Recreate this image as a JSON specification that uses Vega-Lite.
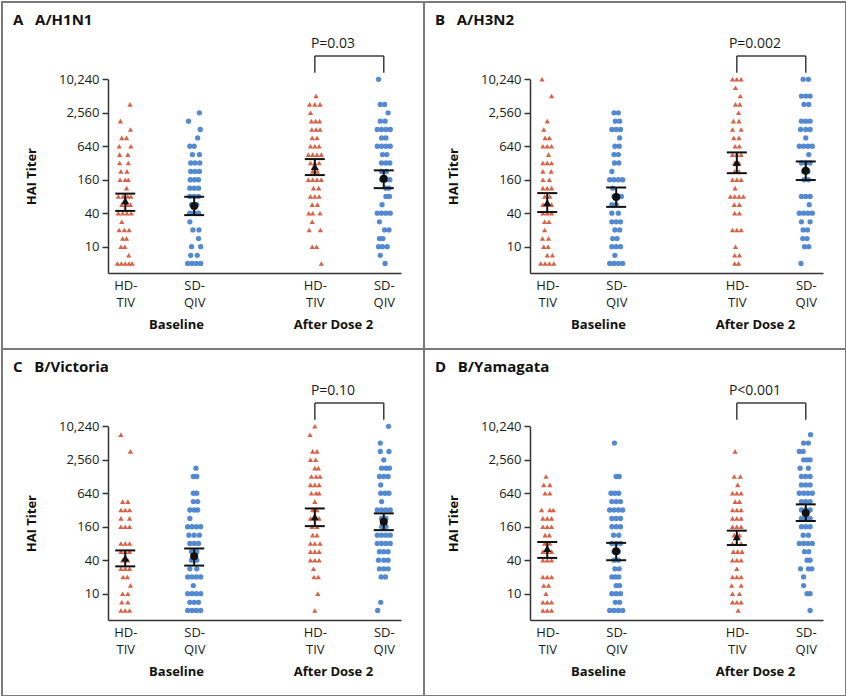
{
"$schema": "https://vega.github.io/schema/vega-lite/v6.json",
"padding": {"left": 1, "top": 1, "right": 1, "bottom": 1},
"background": "white",
"config": {
  "font": "Open Sans",
  "view": {"stroke": "#7a7a7a", "strokeWidth": 2},
  "axis": {"grid": false, "labelFont": "Open Sans", "titleFont": "Open Sans", "labelColor": "#1a1a1a", "titleColor": "#111", "domainColor": "#333", "tickColor": "#333", "domainWidth": 1.5, "tickWidth": 1.5},
  "title": {"anchor": "start", "frame": "group", "font": "Open Sans", "fontSize": 15, "fontWeight": "bold", "color": "#111", "offset": -26, "baseline": "alphabetic", "dx": 11}
},
"datasets": {
"brk": [
 {"x": "After Dose 2|HD-TIV", "x2": "After Dose 2|HD-TIV", "y": 13460, "y2": 26870},
 {"x": "After Dose 2|HD-TIV", "x2": "After Dose 2|SD-QIV", "y": 26870, "y2": 26870},
 {"x": "After Dose 2|SD-QIV", "x2": "After Dose 2|SD-QIV", "y": 26870, "y2": 13460}
],
"Am": [
 {"v": "Baseline", "g": "HD-TIV", "m": 67, "lo": 44, "hi": 90},
 {"v": "Baseline", "g": "SD-QIV", "m": 54, "lo": 37, "hi": 79},
 {"v": "After Dose 2", "g": "HD-TIV", "m": 278, "lo": 194, "hi": 376},
 {"v": "After Dose 2", "g": "SD-QIV", "m": 166, "lo": 113, "hi": 236}
],
"Bm": [
 {"v": "Baseline", "g": "HD-TIV", "m": 62, "lo": 42, "hi": 92},
 {"v": "Baseline", "g": "SD-QIV", "m": 78, "lo": 52, "hi": 116},
 {"v": "After Dose 2", "g": "HD-TIV", "m": 328, "lo": 210, "hi": 496},
 {"v": "After Dose 2", "g": "SD-QIV", "m": 233, "lo": 158, "hi": 341}
],
"Cm": [
 {"v": "Baseline", "g": "HD-TIV", "m": 44, "lo": 31, "hi": 60},
 {"v": "Baseline", "g": "SD-QIV", "m": 47, "lo": 32, "hi": 65},
 {"v": "After Dose 2", "g": "HD-TIV", "m": 242, "lo": 164, "hi": 341},
 {"v": "After Dose 2", "g": "SD-QIV", "m": 197, "lo": 139, "hi": 278}
],
"Dm": [
 {"v": "Baseline", "g": "HD-TIV", "m": 65, "lo": 44, "hi": 85},
 {"v": "Baseline", "g": "SD-QIV", "m": 58, "lo": 40, "hi": 82},
 {"v": "After Dose 2", "g": "HD-TIV", "m": 106, "lo": 75, "hi": 136},
 {"v": "After Dose 2", "g": "SD-QIV", "m": 282, "lo": 203, "hi": 404}
],
"A": [
 {"v": "Baseline", "g": "HD-TIV", "t": 3620, "j": [1.1]},
 {"v": "Baseline", "g": "HD-TIV", "t": 1810, "j": [-1.1]},
 {"v": "Baseline", "g": "HD-TIV", "t": 1280, "j": [1.2]},
 {"v": "Baseline", "g": "HD-TIV", "t": 905, "j": [-0.8, 0.3]},
 {"v": "Baseline", "g": "HD-TIV", "t": 640, "j": [-1.4, 1.3]},
 {"v": "Baseline", "g": "HD-TIV", "t": 453, "j": [-1.3, 0.6]},
 {"v": "Baseline", "g": "HD-TIV", "t": 320, "j": [-1.3, 0.7]},
 {"v": "Baseline", "g": "HD-TIV", "t": 226, "j": [-1, 0.4]},
 {"v": "Baseline", "g": "HD-TIV", "t": 160, "j": [-1.2, 0, 0.7]},
 {"v": "Baseline", "g": "HD-TIV", "t": 113, "j": [0.3]},
 {"v": "Baseline", "g": "HD-TIV", "t": 80, "j": [-1.6, -0.5, 0.6, 1.3]},
 {"v": "Baseline", "g": "HD-TIV", "t": 57, "j": [-0.8, 0.4, 1.2]},
 {"v": "Baseline", "g": "HD-TIV", "t": 40, "j": [-1.6, -0.6, 0.4, 1.4]},
 {"v": "Baseline", "g": "HD-TIV", "t": 28, "j": [-0.8]},
 {"v": "Baseline", "g": "HD-TIV", "t": 20, "j": [-1.4, -0.2, 0.9]},
 {"v": "Baseline", "g": "HD-TIV", "t": 14, "j": [-0.6, 0.3]},
 {"v": "Baseline", "g": "HD-TIV", "t": 10, "j": [-1, -0.1]},
 {"v": "Baseline", "g": "HD-TIV", "t": 7, "j": [0.8]},
 {"v": "Baseline", "g": "HD-TIV", "t": 5, "j": [-1.8, -0.9, 0, 0.9, 1.6]},
 {"v": "Baseline", "g": "SD-QIV", "t": 2560, "j": [1.2]},
 {"v": "Baseline", "g": "SD-QIV", "t": 1810, "j": [-1.3]},
 {"v": "Baseline", "g": "SD-QIV", "t": 1280, "j": [1.4]},
 {"v": "Baseline", "g": "SD-QIV", "t": 905, "j": [0.8]},
 {"v": "Baseline", "g": "SD-QIV", "t": 640, "j": [-1, 0]},
 {"v": "Baseline", "g": "SD-QIV", "t": 453, "j": [-0.4, 1.2]},
 {"v": "Baseline", "g": "SD-QIV", "t": 320, "j": [-0.8, 0.2, 1.3]},
 {"v": "Baseline", "g": "SD-QIV", "t": 226, "j": [-0.8, 0.2, 1.2]},
 {"v": "Baseline", "g": "SD-QIV", "t": 160, "j": [-0.9, 0.1, 1]},
 {"v": "Baseline", "g": "SD-QIV", "t": 113, "j": [-1, 0, 1]},
 {"v": "Baseline", "g": "SD-QIV", "t": 80, "j": [-1, 0, 1]},
 {"v": "Baseline", "g": "SD-QIV", "t": 57, "j": [-0.6, 0.6]},
 {"v": "Baseline", "g": "SD-QIV", "t": 40, "j": [-1, 0, 1]},
 {"v": "Baseline", "g": "SD-QIV", "t": 28, "j": [-1]},
 {"v": "Baseline", "g": "SD-QIV", "t": 20, "j": [-0.3, 1.1]},
 {"v": "Baseline", "g": "SD-QIV", "t": 14, "j": [1]},
 {"v": "Baseline", "g": "SD-QIV", "t": 10, "j": [-0.6, 1.5]},
 {"v": "Baseline", "g": "SD-QIV", "t": 7, "j": [-0.8, 0.7]},
 {"v": "Baseline", "g": "SD-QIV", "t": 5, "j": [-1.5, -0.5, 0.5, 1.5]},
 {"v": "After Dose 2", "g": "HD-TIV", "t": 5120, "j": [0.3]},
 {"v": "After Dose 2", "g": "HD-TIV", "t": 3620, "j": [-1.2, 0, 1.2]},
 {"v": "After Dose 2", "g": "HD-TIV", "t": 2560, "j": [-1]},
 {"v": "After Dose 2", "g": "HD-TIV", "t": 1810, "j": [-0.8, 0.2, 1.1]},
 {"v": "After Dose 2", "g": "HD-TIV", "t": 1280, "j": [-0.7, 0.3, 1.2]},
 {"v": "After Dose 2", "g": "HD-TIV", "t": 905, "j": [-0.6, 0.5]},
 {"v": "After Dose 2", "g": "HD-TIV", "t": 640, "j": [-1, 0, 1]},
 {"v": "After Dose 2", "g": "HD-TIV", "t": 453, "j": [-1.5, -0.5, 0.5, 1.5]},
 {"v": "After Dose 2", "g": "HD-TIV", "t": 320, "j": [-1, 0, 1]},
 {"v": "After Dose 2", "g": "HD-TIV", "t": 226, "j": [-0.5, 0.6]},
 {"v": "After Dose 2", "g": "HD-TIV", "t": 160, "j": [-1.5, -0.5, 0.5, 1.5]},
 {"v": "After Dose 2", "g": "HD-TIV", "t": 113, "j": [-0.3, 0.9]},
 {"v": "After Dose 2", "g": "HD-TIV", "t": 80, "j": [-1, 0, 1]},
 {"v": "After Dose 2", "g": "HD-TIV", "t": 57, "j": [-0.6, 0.6]},
 {"v": "After Dose 2", "g": "HD-TIV", "t": 40, "j": [-1.4, -0.5, 1.2]},
 {"v": "After Dose 2", "g": "HD-TIV", "t": 28, "j": [-0.6]},
 {"v": "After Dose 2", "g": "HD-TIV", "t": 20, "j": [-1.3, 1.3]},
 {"v": "After Dose 2", "g": "HD-TIV", "t": 10, "j": [-0.6, 0.4]},
 {"v": "After Dose 2", "g": "HD-TIV", "t": 5, "j": [1.5]},
 {"v": "After Dose 2", "g": "SD-QIV", "t": 10240, "j": [-1.2]},
 {"v": "After Dose 2", "g": "SD-QIV", "t": 3620, "j": [-0.8, 0.2]},
 {"v": "After Dose 2", "g": "SD-QIV", "t": 2560, "j": [1]},
 {"v": "After Dose 2", "g": "SD-QIV", "t": 1810, "j": [-0.8, 0.3]},
 {"v": "After Dose 2", "g": "SD-QIV", "t": 1280, "j": [-1.5, -0.5, 0.5, 1.5]},
 {"v": "After Dose 2", "g": "SD-QIV", "t": 905, "j": [-0.5, 0.5]},
 {"v": "After Dose 2", "g": "SD-QIV", "t": 640, "j": [-1.5, -0.5, 0.5, 1.5]},
 {"v": "After Dose 2", "g": "SD-QIV", "t": 453, "j": [-0.3, 0.7]},
 {"v": "After Dose 2", "g": "SD-QIV", "t": 320, "j": [-0.5, 0.5, 1.4]},
 {"v": "After Dose 2", "g": "SD-QIV", "t": 226, "j": [-0.5, 0.6]},
 {"v": "After Dose 2", "g": "SD-QIV", "t": 160, "j": [-0.5, 0.5, 1.4]},
 {"v": "After Dose 2", "g": "SD-QIV", "t": 113, "j": [0.5, 1.2]},
 {"v": "After Dose 2", "g": "SD-QIV", "t": 80, "j": [0.5, 1.3]},
 {"v": "After Dose 2", "g": "SD-QIV", "t": 57, "j": [-0.4]},
 {"v": "After Dose 2", "g": "SD-QIV", "t": 40, "j": [-1.5, -0.5, 0.5, 1.5]},
 {"v": "After Dose 2", "g": "SD-QIV", "t": 28, "j": [-1]},
 {"v": "After Dose 2", "g": "SD-QIV", "t": 20, "j": [0.2, 1.2]},
 {"v": "After Dose 2", "g": "SD-QIV", "t": 14, "j": [-1, -0.2]},
 {"v": "After Dose 2", "g": "SD-QIV", "t": 10, "j": [-1.2, -0.3, 0.8]},
 {"v": "After Dose 2", "g": "SD-QIV", "t": 7, "j": [-0.8]},
 {"v": "After Dose 2", "g": "SD-QIV", "t": 5, "j": [0.3]}
],
"B": [
 {"v": "Baseline", "g": "HD-TIV", "t": 10240, "j": [-1.2]},
 {"v": "Baseline", "g": "HD-TIV", "t": 5120, "j": [1]},
 {"v": "Baseline", "g": "HD-TIV", "t": 1810, "j": [0]},
 {"v": "Baseline", "g": "HD-TIV", "t": 1280, "j": [-0.8]},
 {"v": "Baseline", "g": "HD-TIV", "t": 905, "j": [-0.5, 0.5]},
 {"v": "Baseline", "g": "HD-TIV", "t": 640, "j": [-1, 0, 1]},
 {"v": "Baseline", "g": "HD-TIV", "t": 453, "j": [0.3]},
 {"v": "Baseline", "g": "HD-TIV", "t": 320, "j": [-1, 0, 1]},
 {"v": "Baseline", "g": "HD-TIV", "t": 226, "j": [-1, 0.9]},
 {"v": "Baseline", "g": "HD-TIV", "t": 160, "j": [-1, 0.5]},
 {"v": "Baseline", "g": "HD-TIV", "t": 113, "j": [-1, 0, 1]},
 {"v": "Baseline", "g": "HD-TIV", "t": 80, "j": [-0.6, 0.6]},
 {"v": "Baseline", "g": "HD-TIV", "t": 57, "j": [-1, 0, 1]},
 {"v": "Baseline", "g": "HD-TIV", "t": 40, "j": [-1, 0, 1]},
 {"v": "Baseline", "g": "HD-TIV", "t": 28, "j": [-0.6, 0.4]},
 {"v": "Baseline", "g": "HD-TIV", "t": 20, "j": [-0.6]},
 {"v": "Baseline", "g": "HD-TIV", "t": 14, "j": [-1.1, 0.3]},
 {"v": "Baseline", "g": "HD-TIV", "t": 10, "j": [-0.8, 0.2]},
 {"v": "Baseline", "g": "HD-TIV", "t": 7, "j": [0, 1.2]},
 {"v": "Baseline", "g": "HD-TIV", "t": 5, "j": [-1.5, -0.5, 0.5, 1.5]},
 {"v": "Baseline", "g": "SD-QIV", "t": 2560, "j": [-0.5, 0.5]},
 {"v": "Baseline", "g": "SD-QIV", "t": 1810, "j": [-0.2, 0.8]},
 {"v": "Baseline", "g": "SD-QIV", "t": 1280, "j": [-1, 0, 1]},
 {"v": "Baseline", "g": "SD-QIV", "t": 905, "j": [0.8]},
 {"v": "Baseline", "g": "SD-QIV", "t": 640, "j": [-0.3, 0.7]},
 {"v": "Baseline", "g": "SD-QIV", "t": 453, "j": [-0.5, 0.5]},
 {"v": "Baseline", "g": "SD-QIV", "t": 320, "j": [-0.4, 0.6]},
 {"v": "Baseline", "g": "SD-QIV", "t": 226, "j": [-1]},
 {"v": "Baseline", "g": "SD-QIV", "t": 160, "j": [-1.5, -0.5, 0.5, 1.5]},
 {"v": "Baseline", "g": "SD-QIV", "t": 113, "j": [-0.8]},
 {"v": "Baseline", "g": "SD-QIV", "t": 80, "j": [-0.5, 0.5, 1.2]},
 {"v": "Baseline", "g": "SD-QIV", "t": 57, "j": [-1, 0]},
 {"v": "Baseline", "g": "SD-QIV", "t": 40, "j": [-1, 0.5]},
 {"v": "Baseline", "g": "SD-QIV", "t": 28, "j": [-1, 0, 1]},
 {"v": "Baseline", "g": "SD-QIV", "t": 20, "j": [-0.3, 0.8]},
 {"v": "Baseline", "g": "SD-QIV", "t": 14, "j": [-0.8, 0.2]},
 {"v": "Baseline", "g": "SD-QIV", "t": 10, "j": [-1, 0, 1]},
 {"v": "Baseline", "g": "SD-QIV", "t": 7, "j": [-0.3]},
 {"v": "Baseline", "g": "SD-QIV", "t": 5, "j": [-1.5, -0.5, 0.5, 1.5]},
 {"v": "After Dose 2", "g": "HD-TIV", "t": 10240, "j": [-1, 0, 1]},
 {"v": "After Dose 2", "g": "HD-TIV", "t": 7241, "j": [-0.3]},
 {"v": "After Dose 2", "g": "HD-TIV", "t": 5120, "j": [0.8]},
 {"v": "After Dose 2", "g": "HD-TIV", "t": 3620, "j": [-0.3, 0.7]},
 {"v": "After Dose 2", "g": "HD-TIV", "t": 2560, "j": [0.4]},
 {"v": "After Dose 2", "g": "HD-TIV", "t": 1810, "j": [-0.8, 0.5]},
 {"v": "After Dose 2", "g": "HD-TIV", "t": 1280, "j": [-1, 1]},
 {"v": "After Dose 2", "g": "HD-TIV", "t": 905, "j": [-0.7, 0.5]},
 {"v": "After Dose 2", "g": "HD-TIV", "t": 640, "j": [-0.4, 0.6]},
 {"v": "After Dose 2", "g": "HD-TIV", "t": 453, "j": [-1, 0, 1]},
 {"v": "After Dose 2", "g": "HD-TIV", "t": 320, "j": [-0.5, 0.5]},
 {"v": "After Dose 2", "g": "HD-TIV", "t": 226, "j": [-0.5, 0.5]},
 {"v": "After Dose 2", "g": "HD-TIV", "t": 160, "j": [-1, 0, 1]},
 {"v": "After Dose 2", "g": "HD-TIV", "t": 113, "j": [-0.4]},
 {"v": "After Dose 2", "g": "HD-TIV", "t": 80, "j": [-1.5, -0.5, 0.5, 1.5]},
 {"v": "After Dose 2", "g": "HD-TIV", "t": 57, "j": [-0.6, 0.6]},
 {"v": "After Dose 2", "g": "HD-TIV", "t": 40, "j": [-0.5, 0.6]},
 {"v": "After Dose 2", "g": "HD-TIV", "t": 20, "j": [-1, 0, 1]},
 {"v": "After Dose 2", "g": "HD-TIV", "t": 10, "j": [-0.3]},
 {"v": "After Dose 2", "g": "HD-TIV", "t": 7, "j": [-0.5, 0.6]},
 {"v": "After Dose 2", "g": "HD-TIV", "t": 5, "j": [-0.5, 0.4]},
 {"v": "After Dose 2", "g": "SD-QIV", "t": 10240, "j": [-0.6, 0.6]},
 {"v": "After Dose 2", "g": "SD-QIV", "t": 5120, "j": [-1, 0, 1]},
 {"v": "After Dose 2", "g": "SD-QIV", "t": 3620, "j": [-0.4, 0.7]},
 {"v": "After Dose 2", "g": "SD-QIV", "t": 1810, "j": [-1, 0, 1]},
 {"v": "After Dose 2", "g": "SD-QIV", "t": 1280, "j": [-1.2, 0, 1]},
 {"v": "After Dose 2", "g": "SD-QIV", "t": 905, "j": [0]},
 {"v": "After Dose 2", "g": "SD-QIV", "t": 640, "j": [-1.5, -0.5, 0.5, 1.5]},
 {"v": "After Dose 2", "g": "SD-QIV", "t": 453, "j": [0.7]},
 {"v": "After Dose 2", "g": "SD-QIV", "t": 320, "j": [-1, 0, 1]},
 {"v": "After Dose 2", "g": "SD-QIV", "t": 226, "j": [-0.5, 0.5]},
 {"v": "After Dose 2", "g": "SD-QIV", "t": 160, "j": [-0.4, 0.6]},
 {"v": "After Dose 2", "g": "SD-QIV", "t": 80, "j": [-1, 0, 1]},
 {"v": "After Dose 2", "g": "SD-QIV", "t": 57, "j": [0.8]},
 {"v": "After Dose 2", "g": "SD-QIV", "t": 40, "j": [-1.5, -0.5, 0.5, 1.5]},
 {"v": "After Dose 2", "g": "SD-QIV", "t": 28, "j": [-1, 1]},
 {"v": "After Dose 2", "g": "SD-QIV", "t": 20, "j": [-0.6, 0.4]},
 {"v": "After Dose 2", "g": "SD-QIV", "t": 14, "j": [-0.7, 0.3]},
 {"v": "After Dose 2", "g": "SD-QIV", "t": 10, "j": [-0.3, 0.7]},
 {"v": "After Dose 2", "g": "SD-QIV", "t": 5, "j": [-1.1]}
],
"C": [
 {"v": "Baseline", "g": "HD-TIV", "t": 7241, "j": [-1]},
 {"v": "Baseline", "g": "HD-TIV", "t": 3620, "j": [1.2]},
 {"v": "Baseline", "g": "HD-TIV", "t": 453, "j": [-0.6, 0.6]},
 {"v": "Baseline", "g": "HD-TIV", "t": 320, "j": [-1, 0, 1]},
 {"v": "Baseline", "g": "HD-TIV", "t": 226, "j": [-1, 1]},
 {"v": "Baseline", "g": "HD-TIV", "t": 160, "j": [-1, 0, 1]},
 {"v": "Baseline", "g": "HD-TIV", "t": 80, "j": [-1, 0, 1]},
 {"v": "Baseline", "g": "HD-TIV", "t": 57, "j": [-1, 0, 1]},
 {"v": "Baseline", "g": "HD-TIV", "t": 40, "j": [-0.6, 0.6]},
 {"v": "Baseline", "g": "HD-TIV", "t": 28, "j": [-1, 0, 1]},
 {"v": "Baseline", "g": "HD-TIV", "t": 20, "j": [-0.5, 0.5]},
 {"v": "Baseline", "g": "HD-TIV", "t": 14, "j": [1.2]},
 {"v": "Baseline", "g": "HD-TIV", "t": 10, "j": [-0.6, 0.6]},
 {"v": "Baseline", "g": "HD-TIV", "t": 7, "j": [-0.8, 0.6]},
 {"v": "Baseline", "g": "HD-TIV", "t": 5, "j": [-1, 0, 1]},
 {"v": "Baseline", "g": "SD-QIV", "t": 1810, "j": [0.4]},
 {"v": "Baseline", "g": "SD-QIV", "t": 1280, "j": [-0.2, 0.6]},
 {"v": "Baseline", "g": "SD-QIV", "t": 640, "j": [-0.2, 0.6]},
 {"v": "Baseline", "g": "SD-QIV", "t": 453, "j": [-0.2, 0.8]},
 {"v": "Baseline", "g": "SD-QIV", "t": 320, "j": [-1, 0, 0.8]},
 {"v": "Baseline", "g": "SD-QIV", "t": 226, "j": [-1]},
 {"v": "Baseline", "g": "SD-QIV", "t": 160, "j": [-1.5, -0.5, 0.5, 1.5]},
 {"v": "Baseline", "g": "SD-QIV", "t": 113, "j": [-1.2, 0, 1.2]},
 {"v": "Baseline", "g": "SD-QIV", "t": 80, "j": [-1, 0, 1]},
 {"v": "Baseline", "g": "SD-QIV", "t": 57, "j": [-0.6, 0.6]},
 {"v": "Baseline", "g": "SD-QIV", "t": 40, "j": [-0.6, 0.6]},
 {"v": "Baseline", "g": "SD-QIV", "t": 28, "j": [-1, 0.6]},
 {"v": "Baseline", "g": "SD-QIV", "t": 20, "j": [-1.5, -0.5, 0.5, 1.5]},
 {"v": "Baseline", "g": "SD-QIV", "t": 14, "j": [-0.2]},
 {"v": "Baseline", "g": "SD-QIV", "t": 10, "j": [-1.5, -0.5, 0.5, 1.5]},
 {"v": "Baseline", "g": "SD-QIV", "t": 7, "j": [-1, 0, 1]},
 {"v": "Baseline", "g": "SD-QIV", "t": 5, "j": [-1.5, -0.5, 0.5, 1.5]},
 {"v": "After Dose 2", "g": "HD-TIV", "t": 10240, "j": [0]},
 {"v": "After Dose 2", "g": "HD-TIV", "t": 7241, "j": [-1.1]},
 {"v": "After Dose 2", "g": "HD-TIV", "t": 3620, "j": [-0.5, 0.5]},
 {"v": "After Dose 2", "g": "HD-TIV", "t": 2560, "j": [-1, 0.2]},
 {"v": "After Dose 2", "g": "HD-TIV", "t": 1810, "j": [0, 0.8]},
 {"v": "After Dose 2", "g": "HD-TIV", "t": 1280, "j": [-0.8, 0.3, 1.2]},
 {"v": "After Dose 2", "g": "HD-TIV", "t": 905, "j": [-1, 0, 1]},
 {"v": "After Dose 2", "g": "HD-TIV", "t": 640, "j": [-0.8, 0.3, 1]},
 {"v": "After Dose 2", "g": "HD-TIV", "t": 453, "j": [0]},
 {"v": "After Dose 2", "g": "HD-TIV", "t": 320, "j": [-0.5, 0.5]},
 {"v": "After Dose 2", "g": "HD-TIV", "t": 226, "j": [-1, 0, 1]},
 {"v": "After Dose 2", "g": "HD-TIV", "t": 160, "j": [-0.6, 0.5]},
 {"v": "After Dose 2", "g": "HD-TIV", "t": 113, "j": [-0.5, 0.5]},
 {"v": "After Dose 2", "g": "HD-TIV", "t": 80, "j": [-1, 0, 1.2]},
 {"v": "After Dose 2", "g": "HD-TIV", "t": 57, "j": [-1, 0, 1]},
 {"v": "After Dose 2", "g": "HD-TIV", "t": 40, "j": [-1, 0, 1]},
 {"v": "After Dose 2", "g": "HD-TIV", "t": 28, "j": [-0.3]},
 {"v": "After Dose 2", "g": "HD-TIV", "t": 20, "j": [-0.2, 0.8]},
 {"v": "After Dose 2", "g": "HD-TIV", "t": 10, "j": [0.7]},
 {"v": "After Dose 2", "g": "HD-TIV", "t": 5, "j": [0]},
 {"v": "After Dose 2", "g": "SD-QIV", "t": 10240, "j": [1.1]},
 {"v": "After Dose 2", "g": "SD-QIV", "t": 5120, "j": [-0.8]},
 {"v": "After Dose 2", "g": "SD-QIV", "t": 3620, "j": [-0.8, 1.2]},
 {"v": "After Dose 2", "g": "SD-QIV", "t": 2560, "j": [0]},
 {"v": "After Dose 2", "g": "SD-QIV", "t": 1810, "j": [-0.5, 0.5, 1.3]},
 {"v": "After Dose 2", "g": "SD-QIV", "t": 1280, "j": [-1, 0, 1]},
 {"v": "After Dose 2", "g": "SD-QIV", "t": 905, "j": [-0.7]},
 {"v": "After Dose 2", "g": "SD-QIV", "t": 640, "j": [-0.7, 0.3, 1.2]},
 {"v": "After Dose 2", "g": "SD-QIV", "t": 453, "j": [-0.5]},
 {"v": "After Dose 2", "g": "SD-QIV", "t": 320, "j": [-1.5, -0.5, 0.5, 1.5]},
 {"v": "After Dose 2", "g": "SD-QIV", "t": 226, "j": [-0.5, 0.5]},
 {"v": "After Dose 2", "g": "SD-QIV", "t": 160, "j": [-0.5, 0.5]},
 {"v": "After Dose 2", "g": "SD-QIV", "t": 113, "j": [-1.5, -0.5, 0.5, 1.5]},
 {"v": "After Dose 2", "g": "SD-QIV", "t": 80, "j": [-1.5, -0.5, 0.5, 1.5]},
 {"v": "After Dose 2", "g": "SD-QIV", "t": 57, "j": [-1, 0, 1]},
 {"v": "After Dose 2", "g": "SD-QIV", "t": 40, "j": [-1.2, 0, 1]},
 {"v": "After Dose 2", "g": "SD-QIV", "t": 28, "j": [-1, 0, 1]},
 {"v": "After Dose 2", "g": "SD-QIV", "t": 20, "j": [-0.6, 0.4]},
 {"v": "After Dose 2", "g": "SD-QIV", "t": 7, "j": [-0.7]},
 {"v": "After Dose 2", "g": "SD-QIV", "t": 5, "j": [-1.4]}
],
"D": [
 {"v": "Baseline", "g": "HD-TIV", "t": 1280, "j": [-0.3]},
 {"v": "Baseline", "g": "HD-TIV", "t": 905, "j": [-0.8, 0.6]},
 {"v": "Baseline", "g": "HD-TIV", "t": 640, "j": [-0.5, 0.6]},
 {"v": "Baseline", "g": "HD-TIV", "t": 320, "j": [-1.3, 0.6, 1.4]},
 {"v": "Baseline", "g": "HD-TIV", "t": 226, "j": [-1, 0, 1]},
 {"v": "Baseline", "g": "HD-TIV", "t": 160, "j": [-1, 0, 1]},
 {"v": "Baseline", "g": "HD-TIV", "t": 113, "j": [-0.5, 0.5]},
 {"v": "Baseline", "g": "HD-TIV", "t": 80, "j": [-0.6, 0.6]},
 {"v": "Baseline", "g": "HD-TIV", "t": 57, "j": [-1, 0, 1]},
 {"v": "Baseline", "g": "HD-TIV", "t": 40, "j": [-1, 0, 1]},
 {"v": "Baseline", "g": "HD-TIV", "t": 20, "j": [-1, 0, 1]},
 {"v": "Baseline", "g": "HD-TIV", "t": 14, "j": [-0.8, 0.3]},
 {"v": "Baseline", "g": "HD-TIV", "t": 10, "j": [-0.3]},
 {"v": "Baseline", "g": "HD-TIV", "t": 7, "j": [-1, 0, 1]},
 {"v": "Baseline", "g": "HD-TIV", "t": 5, "j": [-1, 0, 1]},
 {"v": "Baseline", "g": "SD-QIV", "t": 5120, "j": [-0.4]},
 {"v": "Baseline", "g": "SD-QIV", "t": 1280, "j": [0, 0.7]},
 {"v": "Baseline", "g": "SD-QIV", "t": 640, "j": [-1.2, -0.3, 0.6]},
 {"v": "Baseline", "g": "SD-QIV", "t": 453, "j": [-1, 0, 1]},
 {"v": "Baseline", "g": "SD-QIV", "t": 320, "j": [-1.5, -0.5, 0.5, 1.5]},
 {"v": "Baseline", "g": "SD-QIV", "t": 226, "j": [-1, 0, 1]},
 {"v": "Baseline", "g": "SD-QIV", "t": 160, "j": [-1, 0, 1]},
 {"v": "Baseline", "g": "SD-QIV", "t": 113, "j": [-0.6, 0.6]},
 {"v": "Baseline", "g": "SD-QIV", "t": 80, "j": [-1, 0, 1]},
 {"v": "Baseline", "g": "SD-QIV", "t": 57, "j": [-0.5, 0.5]},
 {"v": "Baseline", "g": "SD-QIV", "t": 40, "j": [-0.5, 0.5]},
 {"v": "Baseline", "g": "SD-QIV", "t": 28, "j": [-0.3, 0.7]},
 {"v": "Baseline", "g": "SD-QIV", "t": 20, "j": [-1, -0.2, 0.6]},
 {"v": "Baseline", "g": "SD-QIV", "t": 14, "j": [0, 0.8]},
 {"v": "Baseline", "g": "SD-QIV", "t": 10, "j": [-1, 0, 1]},
 {"v": "Baseline", "g": "SD-QIV", "t": 7, "j": [-0.2, 0.8]},
 {"v": "Baseline", "g": "SD-QIV", "t": 5, "j": [-1.5, -0.5, 0.5, 1.5]},
 {"v": "After Dose 2", "g": "HD-TIV", "t": 3620, "j": [-0.4]},
 {"v": "After Dose 2", "g": "HD-TIV", "t": 1280, "j": [-0.6, 0.8]},
 {"v": "After Dose 2", "g": "HD-TIV", "t": 905, "j": [0.2]},
 {"v": "After Dose 2", "g": "HD-TIV", "t": 640, "j": [-1, 0, 1]},
 {"v": "After Dose 2", "g": "HD-TIV", "t": 453, "j": [-0.4, 0.6]},
 {"v": "After Dose 2", "g": "HD-TIV", "t": 320, "j": [-1, 0, 1]},
 {"v": "After Dose 2", "g": "HD-TIV", "t": 226, "j": [-1, 0, 1]},
 {"v": "After Dose 2", "g": "HD-TIV", "t": 160, "j": [-1, 0, 1]},
 {"v": "After Dose 2", "g": "HD-TIV", "t": 113, "j": [-0.6, 0.6]},
 {"v": "After Dose 2", "g": "HD-TIV", "t": 80, "j": [-1, 0, 1]},
 {"v": "After Dose 2", "g": "HD-TIV", "t": 57, "j": [-0.8, 0.2, 1.2]},
 {"v": "After Dose 2", "g": "HD-TIV", "t": 40, "j": [-1, 0, 1]},
 {"v": "After Dose 2", "g": "HD-TIV", "t": 28, "j": [0]},
 {"v": "After Dose 2", "g": "HD-TIV", "t": 20, "j": [-1, 0, 1]},
 {"v": "After Dose 2", "g": "HD-TIV", "t": 14, "j": [-1.2, 1]},
 {"v": "After Dose 2", "g": "HD-TIV", "t": 10, "j": [-1, 0.6]},
 {"v": "After Dose 2", "g": "HD-TIV", "t": 7, "j": [-1, 0, 1]},
 {"v": "After Dose 2", "g": "HD-TIV", "t": 5, "j": [0.3]},
 {"v": "After Dose 2", "g": "SD-QIV", "t": 7241, "j": [1.1]},
 {"v": "After Dose 2", "g": "SD-QIV", "t": 5120, "j": [-0.5, 0.6]},
 {"v": "After Dose 2", "g": "SD-QIV", "t": 3620, "j": [-1.5, -0.6]},
 {"v": "After Dose 2", "g": "SD-QIV", "t": 2560, "j": [-0.5, 0.3, 1]},
 {"v": "After Dose 2", "g": "SD-QIV", "t": 1810, "j": [-1.3, 0.6]},
 {"v": "After Dose 2", "g": "SD-QIV", "t": 1280, "j": [-1, 0, 1]},
 {"v": "After Dose 2", "g": "SD-QIV", "t": 905, "j": [-1, 0, 1]},
 {"v": "After Dose 2", "g": "SD-QIV", "t": 640, "j": [-1.5, -0.5, 0.5, 1.5]},
 {"v": "After Dose 2", "g": "SD-QIV", "t": 453, "j": [-1, 0, 1]},
 {"v": "After Dose 2", "g": "SD-QIV", "t": 320, "j": [-1, 0, 1]},
 {"v": "After Dose 2", "g": "SD-QIV", "t": 226, "j": [-1, 0, 1]},
 {"v": "After Dose 2", "g": "SD-QIV", "t": 160, "j": [-1, 0, 1]},
 {"v": "After Dose 2", "g": "SD-QIV", "t": 113, "j": [-0.6, 0.6]},
 {"v": "After Dose 2", "g": "SD-QIV", "t": 80, "j": [-1.5, -0.5, 0.5, 1.5]},
 {"v": "After Dose 2", "g": "SD-QIV", "t": 57, "j": [-0.3, 0.7]},
 {"v": "After Dose 2", "g": "SD-QIV", "t": 40, "j": [0.3, 1]},
 {"v": "After Dose 2", "g": "SD-QIV", "t": 28, "j": [-1.2, 0.6, 1.4]},
 {"v": "After Dose 2", "g": "SD-QIV", "t": 20, "j": [-0.5]},
 {"v": "After Dose 2", "g": "SD-QIV", "t": 14, "j": [-0.5]},
 {"v": "After Dose 2", "g": "SD-QIV", "t": 10, "j": [0.3, 1]},
 {"v": "After Dose 2", "g": "SD-QIV", "t": 5, "j": [1]}
]
},
"columns": 2,
"spacing": 0,
"bounds": "flush",
"concat": [
 {"width": 422, "height": 347, "title": {"text": "A\u00a0\u00a0\u00a0A/H1N1"},
  "resolve": {"scale": {"x": "independent"}, "axis": {"x": "independent"}},
  "layer": [
   {"layer": [
     {"data": {"name": "A"}, "transform": [{"flatten": ["j"]}, {"calculate": "datum.v + '|' + datum.g", "as": "c"}],
      "mark": {"type": "point", "filled": true, "size": 28, "opacity": 0.95},
      "encoding": {
        "x": {"field": "c", "type": "nominal", "scale": {"type": "point", "domain": ["Baseline|HD-TIV", "s1", "s2", "s3", "Baseline|SD-QIV", "s5", "s6", "s7", "s8", "s9", "s10", "After Dose 2|HD-TIV", "s12", "s13", "s14", "After Dose 2|SD-QIV"], "range": [106, 399], "padding": 2.77},
              "axis": {"orient": "bottom", "offset": -76, "title": null, "values": ["Baseline|HD-TIV", "Baseline|SD-QIV", "After Dose 2|HD-TIV", "After Dose 2|SD-QIV"], "ticks": false, "tickSize": 0, "labelPadding": 6, "labelFontSize": 13, "labelLineHeight": 17.5, "labelBaseline": "top", "labelAngle": 0, "labelExpr": "[substring(split(datum.value, '|')[1], 0, 3), substring(split(datum.value, '|')[1], 3)]"}},
        "xOffset": {"field": "j", "type": "quantitative", "scale": {"domain": [-3, 3], "range": [-13, 13]}},
        "y": {"field": "t", "type": "quantitative", "scale": {"type": "log", "base": 2, "domain": [3.364, 10240], "range": [271, 77.3], "nice": false},
              "axis": {"title": "HAI Titer", "values": [10, 40, 160, 640, 2560, 10240], "format": ",", "offset": -106, "tickSize": 6, "labelPadding": 3, "labelFontSize": 13, "titleFontSize": 13, "titleFontWeight": "bold", "titleX": -77, "titleBaseline": "middle", "titleAngle": -90}},
        "shape": {"field": "g", "type": "nominal", "scale": {"domain": ["HD-TIV", "SD-QIV"], "range": ["triangle-up", "circle"]}, "legend": null},
        "color": {"field": "g", "type": "nominal", "scale": {"domain": ["HD-TIV", "SD-QIV"], "range": ["#d9593b", "#4a84cf"]}, "legend": null}
      }},
     {"data": {"name": "Am"}, "transform": [{"calculate": "datum.v + '|' + datum.g", "as": "c"}],
      "mark": {"type": "rule", "strokeWidth": 2, "color": "#111"},
      "encoding": {
        "x": {"field": "c", "type": "nominal", "scale": {"type": "point", "domain": ["Baseline|HD-TIV", "s1", "s2", "s3", "Baseline|SD-QIV", "s5", "s6", "s7", "s8", "s9", "s10", "After Dose 2|HD-TIV", "s12", "s13", "s14", "After Dose 2|SD-QIV"], "range": [106, 399], "padding": 2.77},
              "axis": {"orient": "bottom", "offset": -76, "title": null, "values": ["Baseline|HD-TIV", "Baseline|SD-QIV", "After Dose 2|HD-TIV", "After Dose 2|SD-QIV"], "ticks": false, "tickSize": 0, "labelPadding": 6, "labelFontSize": 13, "labelLineHeight": 17.5, "labelBaseline": "top", "labelAngle": 0, "labelExpr": "[substring(split(datum.value, '|')[1], 0, 3), substring(split(datum.value, '|')[1], 3)]"}},
        "y": {"field": "lo", "type": "quantitative", "scale": {"type": "log", "base": 2, "domain": [3.364, 10240], "range": [271, 77.3], "nice": false},
              "axis": {"title": "HAI Titer", "values": [10, 40, 160, 640, 2560, 10240], "format": ",", "offset": -106, "tickSize": 6, "labelPadding": 3, "labelFontSize": 13, "titleFontSize": 13, "titleFontWeight": "bold", "titleX": -77, "titleBaseline": "middle", "titleAngle": -90}},
        "y2": {"field": "hi"}
      }},
     {"data": {"name": "Am"}, "transform": [{"calculate": "datum.v + '|' + datum.g", "as": "c"}, {"fold": ["lo", "hi"], "as": ["k", "val"]}],
      "mark": {"type": "tick", "thickness": 2, "size": 20, "color": "#111", "opacity": 1},
      "encoding": {
        "x": {"field": "c", "type": "nominal", "scale": {"type": "point", "domain": ["Baseline|HD-TIV", "s1", "s2", "s3", "Baseline|SD-QIV", "s5", "s6", "s7", "s8", "s9", "s10", "After Dose 2|HD-TIV", "s12", "s13", "s14", "After Dose 2|SD-QIV"], "range": [106, 399], "padding": 2.77},
              "axis": {"orient": "bottom", "offset": -76, "title": null, "values": ["Baseline|HD-TIV", "Baseline|SD-QIV", "After Dose 2|HD-TIV", "After Dose 2|SD-QIV"], "ticks": false, "tickSize": 0, "labelPadding": 6, "labelFontSize": 13, "labelLineHeight": 17.5, "labelBaseline": "top", "labelAngle": 0, "labelExpr": "[substring(split(datum.value, '|')[1], 0, 3), substring(split(datum.value, '|')[1], 3)]"}},
        "y": {"field": "val", "type": "quantitative", "scale": {"type": "log", "base": 2, "domain": [3.364, 10240], "range": [271, 77.3], "nice": false},
              "axis": {"title": "HAI Titer", "values": [10, 40, 160, 640, 2560, 10240], "format": ",", "offset": -106, "tickSize": 6, "labelPadding": 3, "labelFontSize": 13, "titleFontSize": 13, "titleFontWeight": "bold", "titleX": -77, "titleBaseline": "middle", "titleAngle": -90}}
      }},
     {"data": {"name": "Am"}, "transform": [{"calculate": "datum.v + '|' + datum.g", "as": "c"}],
      "mark": {"type": "point", "filled": true, "size": 65, "color": "#111", "opacity": 1},
      "encoding": {
        "x": {"field": "c", "type": "nominal", "scale": {"type": "point", "domain": ["Baseline|HD-TIV", "s1", "s2", "s3", "Baseline|SD-QIV", "s5", "s6", "s7", "s8", "s9", "s10", "After Dose 2|HD-TIV", "s12", "s13", "s14", "After Dose 2|SD-QIV"], "range": [106, 399], "padding": 2.77},
              "axis": {"orient": "bottom", "offset": -76, "title": null, "values": ["Baseline|HD-TIV", "Baseline|SD-QIV", "After Dose 2|HD-TIV", "After Dose 2|SD-QIV"], "ticks": false, "tickSize": 0, "labelPadding": 6, "labelFontSize": 13, "labelLineHeight": 17.5, "labelBaseline": "top", "labelAngle": 0, "labelExpr": "[substring(split(datum.value, '|')[1], 0, 3), substring(split(datum.value, '|')[1], 3)]"}},
        "y": {"field": "m", "type": "quantitative", "scale": {"type": "log", "base": 2, "domain": [3.364, 10240], "range": [271, 77.3], "nice": false},
              "axis": {"title": "HAI Titer", "values": [10, 40, 160, 640, 2560, 10240], "format": ",", "offset": -106, "tickSize": 6, "labelPadding": 3, "labelFontSize": 13, "titleFontSize": 13, "titleFontWeight": "bold", "titleX": -77, "titleBaseline": "middle", "titleAngle": -90}},
        "shape": {"field": "g", "type": "nominal", "scale": {"domain": ["HD-TIV", "SD-QIV"], "range": ["triangle-up", "circle"]}, "legend": null}
      }},
     {"data": {"name": "brk"},
      "mark": {"type": "rule", "strokeWidth": 1.5, "color": "#3c3c3c"},
      "encoding": {
        "x": {"field": "x", "type": "nominal", "scale": {"type": "point", "domain": ["Baseline|HD-TIV", "s1", "s2", "s3", "Baseline|SD-QIV", "s5", "s6", "s7", "s8", "s9", "s10", "After Dose 2|HD-TIV", "s12", "s13", "s14", "After Dose 2|SD-QIV"], "range": [106, 399], "padding": 2.77},
              "axis": {"orient": "bottom", "offset": -76, "title": null, "values": ["Baseline|HD-TIV", "Baseline|SD-QIV", "After Dose 2|HD-TIV", "After Dose 2|SD-QIV"], "ticks": false, "tickSize": 0, "labelPadding": 6, "labelFontSize": 13, "labelLineHeight": 17.5, "labelBaseline": "top", "labelAngle": 0, "labelExpr": "[substring(split(datum.value, '|')[1], 0, 3), substring(split(datum.value, '|')[1], 3)]"}},
        "x2": {"field": "x2"},
        "y": {"field": "y", "type": "quantitative", "scale": {"type": "log", "base": 2, "domain": [3.364, 10240], "range": [271, 77.3], "nice": false},
              "axis": {"title": "HAI Titer", "values": [10, 40, 160, 640, 2560, 10240], "format": ",", "offset": -106, "tickSize": 6, "labelPadding": 3, "labelFontSize": 13, "titleFontSize": 13, "titleFontWeight": "bold", "titleX": -77, "titleBaseline": "middle", "titleAngle": -90}},
        "y2": {"field": "y2"}
      }}
   ]},
   {"data": {"values": [{"v": "After Dose 2", "y": 43600, "label": "P=0.03"}]},
    "mark": {"type": "text", "fontSize": 14, "baseline": "middle", "align": "center", "color": "#1a1a1a"},
    "encoding": {
      "x": {"field": "v", "type": "nominal", "scale": {"type": "point", "domain": ["Baseline", "After Dose 2"], "range": [106, 399], "padding": 0.4337},
            "axis": {"orient": "bottom", "offset": -76, "title": null, "domain": false, "ticks": false, "tickSize": 0, "labelPadding": 45, "labelFontSize": 13, "labelFontWeight": "bold", "labelBaseline": "top", "labelAngle": 0, "labelColor": "#111"}},
      "y": {"field": "y", "type": "quantitative", "scale": {"type": "log", "base": 2, "domain": [3.364, 10240], "range": [271, 77.3], "nice": false},
            "axis": {"title": "HAI Titer", "values": [10, 40, 160, 640, 2560, 10240], "format": ",", "offset": -106, "tickSize": 6, "labelPadding": 3, "labelFontSize": 13, "titleFontSize": 13, "titleFontWeight": "bold", "titleX": -77, "titleBaseline": "middle", "titleAngle": -90}},
      "text": {"field": "label"}
    }}
  ]},
 {"width": 422, "height": 347, "title": {"text": "B\u00a0\u00a0\u00a0A/H3N2"},
  "resolve": {"scale": {"x": "independent"}, "axis": {"x": "independent"}},
  "layer": [
   {"layer": [
     {"data": {"name": "B"}, "transform": [{"flatten": ["j"]}, {"calculate": "datum.v + '|' + datum.g", "as": "c"}],
      "mark": {"type": "point", "filled": true, "size": 28, "opacity": 0.95},
      "encoding": {
        "x": {"field": "c", "type": "nominal", "scale": {"type": "point", "domain": ["Baseline|HD-TIV", "s1", "s2", "s3", "Baseline|SD-QIV", "s5", "s6", "s7", "s8", "s9", "s10", "After Dose 2|HD-TIV", "s12", "s13", "s14", "After Dose 2|SD-QIV"], "range": [106, 399], "padding": 2.77},
              "axis": {"orient": "bottom", "offset": -76, "title": null, "values": ["Baseline|HD-TIV", "Baseline|SD-QIV", "After Dose 2|HD-TIV", "After Dose 2|SD-QIV"], "ticks": false, "tickSize": 0, "labelPadding": 6, "labelFontSize": 13, "labelLineHeight": 17.5, "labelBaseline": "top", "labelAngle": 0, "labelExpr": "[substring(split(datum.value, '|')[1], 0, 3), substring(split(datum.value, '|')[1], 3)]"}},
        "xOffset": {"field": "j", "type": "quantitative", "scale": {"domain": [-3, 3], "range": [-13, 13]}},
        "y": {"field": "t", "type": "quantitative", "scale": {"type": "log", "base": 2, "domain": [3.364, 10240], "range": [271, 77.3], "nice": false},
              "axis": {"title": "HAI Titer", "values": [10, 40, 160, 640, 2560, 10240], "format": ",", "offset": -106, "tickSize": 6, "labelPadding": 3, "labelFontSize": 13, "titleFontSize": 13, "titleFontWeight": "bold", "titleX": -77, "titleBaseline": "middle", "titleAngle": -90}},
        "shape": {"field": "g", "type": "nominal", "scale": {"domain": ["HD-TIV", "SD-QIV"], "range": ["triangle-up", "circle"]}, "legend": null},
        "color": {"field": "g", "type": "nominal", "scale": {"domain": ["HD-TIV", "SD-QIV"], "range": ["#d9593b", "#4a84cf"]}, "legend": null}
      }},
     {"data": {"name": "Bm"}, "transform": [{"calculate": "datum.v + '|' + datum.g", "as": "c"}],
      "mark": {"type": "rule", "strokeWidth": 2, "color": "#111"},
      "encoding": {
        "x": {"field": "c", "type": "nominal", "scale": {"type": "point", "domain": ["Baseline|HD-TIV", "s1", "s2", "s3", "Baseline|SD-QIV", "s5", "s6", "s7", "s8", "s9", "s10", "After Dose 2|HD-TIV", "s12", "s13", "s14", "After Dose 2|SD-QIV"], "range": [106, 399], "padding": 2.77},
              "axis": {"orient": "bottom", "offset": -76, "title": null, "values": ["Baseline|HD-TIV", "Baseline|SD-QIV", "After Dose 2|HD-TIV", "After Dose 2|SD-QIV"], "ticks": false, "tickSize": 0, "labelPadding": 6, "labelFontSize": 13, "labelLineHeight": 17.5, "labelBaseline": "top", "labelAngle": 0, "labelExpr": "[substring(split(datum.value, '|')[1], 0, 3), substring(split(datum.value, '|')[1], 3)]"}},
        "y": {"field": "lo", "type": "quantitative", "scale": {"type": "log", "base": 2, "domain": [3.364, 10240], "range": [271, 77.3], "nice": false},
              "axis": {"title": "HAI Titer", "values": [10, 40, 160, 640, 2560, 10240], "format": ",", "offset": -106, "tickSize": 6, "labelPadding": 3, "labelFontSize": 13, "titleFontSize": 13, "titleFontWeight": "bold", "titleX": -77, "titleBaseline": "middle", "titleAngle": -90}},
        "y2": {"field": "hi"}
      }},
     {"data": {"name": "Bm"}, "transform": [{"calculate": "datum.v + '|' + datum.g", "as": "c"}, {"fold": ["lo", "hi"], "as": ["k", "val"]}],
      "mark": {"type": "tick", "thickness": 2, "size": 20, "color": "#111", "opacity": 1},
      "encoding": {
        "x": {"field": "c", "type": "nominal", "scale": {"type": "point", "domain": ["Baseline|HD-TIV", "s1", "s2", "s3", "Baseline|SD-QIV", "s5", "s6", "s7", "s8", "s9", "s10", "After Dose 2|HD-TIV", "s12", "s13", "s14", "After Dose 2|SD-QIV"], "range": [106, 399], "padding": 2.77},
              "axis": {"orient": "bottom", "offset": -76, "title": null, "values": ["Baseline|HD-TIV", "Baseline|SD-QIV", "After Dose 2|HD-TIV", "After Dose 2|SD-QIV"], "ticks": false, "tickSize": 0, "labelPadding": 6, "labelFontSize": 13, "labelLineHeight": 17.5, "labelBaseline": "top", "labelAngle": 0, "labelExpr": "[substring(split(datum.value, '|')[1], 0, 3), substring(split(datum.value, '|')[1], 3)]"}},
        "y": {"field": "val", "type": "quantitative", "scale": {"type": "log", "base": 2, "domain": [3.364, 10240], "range": [271, 77.3], "nice": false},
              "axis": {"title": "HAI Titer", "values": [10, 40, 160, 640, 2560, 10240], "format": ",", "offset": -106, "tickSize": 6, "labelPadding": 3, "labelFontSize": 13, "titleFontSize": 13, "titleFontWeight": "bold", "titleX": -77, "titleBaseline": "middle", "titleAngle": -90}}
      }},
     {"data": {"name": "Bm"}, "transform": [{"calculate": "datum.v + '|' + datum.g", "as": "c"}],
      "mark": {"type": "point", "filled": true, "size": 65, "color": "#111", "opacity": 1},
      "encoding": {
        "x": {"field": "c", "type": "nominal", "scale": {"type": "point", "domain": ["Baseline|HD-TIV", "s1", "s2", "s3", "Baseline|SD-QIV", "s5", "s6", "s7", "s8", "s9", "s10", "After Dose 2|HD-TIV", "s12", "s13", "s14", "After Dose 2|SD-QIV"], "range": [106, 399], "padding": 2.77},
              "axis": {"orient": "bottom", "offset": -76, "title": null, "values": ["Baseline|HD-TIV", "Baseline|SD-QIV", "After Dose 2|HD-TIV", "After Dose 2|SD-QIV"], "ticks": false, "tickSize": 0, "labelPadding": 6, "labelFontSize": 13, "labelLineHeight": 17.5, "labelBaseline": "top", "labelAngle": 0, "labelExpr": "[substring(split(datum.value, '|')[1], 0, 3), substring(split(datum.value, '|')[1], 3)]"}},
        "y": {"field": "m", "type": "quantitative", "scale": {"type": "log", "base": 2, "domain": [3.364, 10240], "range": [271, 77.3], "nice": false},
              "axis": {"title": "HAI Titer", "values": [10, 40, 160, 640, 2560, 10240], "format": ",", "offset": -106, "tickSize": 6, "labelPadding": 3, "labelFontSize": 13, "titleFontSize": 13, "titleFontWeight": "bold", "titleX": -77, "titleBaseline": "middle", "titleAngle": -90}},
        "shape": {"field": "g", "type": "nominal", "scale": {"domain": ["HD-TIV", "SD-QIV"], "range": ["triangle-up", "circle"]}, "legend": null}
      }},
     {"data": {"name": "brk"},
      "mark": {"type": "rule", "strokeWidth": 1.5, "color": "#3c3c3c"},
      "encoding": {
        "x": {"field": "x", "type": "nominal", "scale": {"type": "point", "domain": ["Baseline|HD-TIV", "s1", "s2", "s3", "Baseline|SD-QIV", "s5", "s6", "s7", "s8", "s9", "s10", "After Dose 2|HD-TIV", "s12", "s13", "s14", "After Dose 2|SD-QIV"], "range": [106, 399], "padding": 2.77},
              "axis": {"orient": "bottom", "offset": -76, "title": null, "values": ["Baseline|HD-TIV", "Baseline|SD-QIV", "After Dose 2|HD-TIV", "After Dose 2|SD-QIV"], "ticks": false, "tickSize": 0, "labelPadding": 6, "labelFontSize": 13, "labelLineHeight": 17.5, "labelBaseline": "top", "labelAngle": 0, "labelExpr": "[substring(split(datum.value, '|')[1], 0, 3), substring(split(datum.value, '|')[1], 3)]"}},
        "x2": {"field": "x2"},
        "y": {"field": "y", "type": "quantitative", "scale": {"type": "log", "base": 2, "domain": [3.364, 10240], "range": [271, 77.3], "nice": false},
              "axis": {"title": "HAI Titer", "values": [10, 40, 160, 640, 2560, 10240], "format": ",", "offset": -106, "tickSize": 6, "labelPadding": 3, "labelFontSize": 13, "titleFontSize": 13, "titleFontWeight": "bold", "titleX": -77, "titleBaseline": "middle", "titleAngle": -90}},
        "y2": {"field": "y2"}
      }}
   ]},
   {"data": {"values": [{"v": "After Dose 2", "y": 43600, "label": "P=0.002"}]},
    "mark": {"type": "text", "fontSize": 14, "baseline": "middle", "align": "center", "color": "#1a1a1a"},
    "encoding": {
      "x": {"field": "v", "type": "nominal", "scale": {"type": "point", "domain": ["Baseline", "After Dose 2"], "range": [106, 399], "padding": 0.4337},
            "axis": {"orient": "bottom", "offset": -76, "title": null, "domain": false, "ticks": false, "tickSize": 0, "labelPadding": 45, "labelFontSize": 13, "labelFontWeight": "bold", "labelBaseline": "top", "labelAngle": 0, "labelColor": "#111"}},
      "y": {"field": "y", "type": "quantitative", "scale": {"type": "log", "base": 2, "domain": [3.364, 10240], "range": [271, 77.3], "nice": false},
            "axis": {"title": "HAI Titer", "values": [10, 40, 160, 640, 2560, 10240], "format": ",", "offset": -106, "tickSize": 6, "labelPadding": 3, "labelFontSize": 13, "titleFontSize": 13, "titleFontWeight": "bold", "titleX": -77, "titleBaseline": "middle", "titleAngle": -90}},
      "text": {"field": "label"}
    }}
  ]},
 {"width": 422, "height": 347, "title": {"text": "C\u00a0\u00a0\u00a0B/Victoria"},
  "resolve": {"scale": {"x": "independent"}, "axis": {"x": "independent"}},
  "layer": [
   {"layer": [
     {"data": {"name": "C"}, "transform": [{"flatten": ["j"]}, {"calculate": "datum.v + '|' + datum.g", "as": "c"}],
      "mark": {"type": "point", "filled": true, "size": 28, "opacity": 0.95},
      "encoding": {
        "x": {"field": "c", "type": "nominal", "scale": {"type": "point", "domain": ["Baseline|HD-TIV", "s1", "s2", "s3", "Baseline|SD-QIV", "s5", "s6", "s7", "s8", "s9", "s10", "After Dose 2|HD-TIV", "s12", "s13", "s14", "After Dose 2|SD-QIV"], "range": [106, 399], "padding": 2.77},
              "axis": {"orient": "bottom", "offset": -76, "title": null, "values": ["Baseline|HD-TIV", "Baseline|SD-QIV", "After Dose 2|HD-TIV", "After Dose 2|SD-QIV"], "ticks": false, "tickSize": 0, "labelPadding": 6, "labelFontSize": 13, "labelLineHeight": 17.5, "labelBaseline": "top", "labelAngle": 0, "labelExpr": "[substring(split(datum.value, '|')[1], 0, 3), substring(split(datum.value, '|')[1], 3)]"}},
        "xOffset": {"field": "j", "type": "quantitative", "scale": {"domain": [-3, 3], "range": [-13, 13]}},
        "y": {"field": "t", "type": "quantitative", "scale": {"type": "log", "base": 2, "domain": [3.364, 10240], "range": [271, 77.3], "nice": false},
              "axis": {"title": "HAI Titer", "values": [10, 40, 160, 640, 2560, 10240], "format": ",", "offset": -106, "tickSize": 6, "labelPadding": 3, "labelFontSize": 13, "titleFontSize": 13, "titleFontWeight": "bold", "titleX": -77, "titleBaseline": "middle", "titleAngle": -90}},
        "shape": {"field": "g", "type": "nominal", "scale": {"domain": ["HD-TIV", "SD-QIV"], "range": ["triangle-up", "circle"]}, "legend": null},
        "color": {"field": "g", "type": "nominal", "scale": {"domain": ["HD-TIV", "SD-QIV"], "range": ["#d9593b", "#4a84cf"]}, "legend": null}
      }},
     {"data": {"name": "Cm"}, "transform": [{"calculate": "datum.v + '|' + datum.g", "as": "c"}],
      "mark": {"type": "rule", "strokeWidth": 2, "color": "#111"},
      "encoding": {
        "x": {"field": "c", "type": "nominal", "scale": {"type": "point", "domain": ["Baseline|HD-TIV", "s1", "s2", "s3", "Baseline|SD-QIV", "s5", "s6", "s7", "s8", "s9", "s10", "After Dose 2|HD-TIV", "s12", "s13", "s14", "After Dose 2|SD-QIV"], "range": [106, 399], "padding": 2.77},
              "axis": {"orient": "bottom", "offset": -76, "title": null, "values": ["Baseline|HD-TIV", "Baseline|SD-QIV", "After Dose 2|HD-TIV", "After Dose 2|SD-QIV"], "ticks": false, "tickSize": 0, "labelPadding": 6, "labelFontSize": 13, "labelLineHeight": 17.5, "labelBaseline": "top", "labelAngle": 0, "labelExpr": "[substring(split(datum.value, '|')[1], 0, 3), substring(split(datum.value, '|')[1], 3)]"}},
        "y": {"field": "lo", "type": "quantitative", "scale": {"type": "log", "base": 2, "domain": [3.364, 10240], "range": [271, 77.3], "nice": false},
              "axis": {"title": "HAI Titer", "values": [10, 40, 160, 640, 2560, 10240], "format": ",", "offset": -106, "tickSize": 6, "labelPadding": 3, "labelFontSize": 13, "titleFontSize": 13, "titleFontWeight": "bold", "titleX": -77, "titleBaseline": "middle", "titleAngle": -90}},
        "y2": {"field": "hi"}
      }},
     {"data": {"name": "Cm"}, "transform": [{"calculate": "datum.v + '|' + datum.g", "as": "c"}, {"fold": ["lo", "hi"], "as": ["k", "val"]}],
      "mark": {"type": "tick", "thickness": 2, "size": 20, "color": "#111", "opacity": 1},
      "encoding": {
        "x": {"field": "c", "type": "nominal", "scale": {"type": "point", "domain": ["Baseline|HD-TIV", "s1", "s2", "s3", "Baseline|SD-QIV", "s5", "s6", "s7", "s8", "s9", "s10", "After Dose 2|HD-TIV", "s12", "s13", "s14", "After Dose 2|SD-QIV"], "range": [106, 399], "padding": 2.77},
              "axis": {"orient": "bottom", "offset": -76, "title": null, "values": ["Baseline|HD-TIV", "Baseline|SD-QIV", "After Dose 2|HD-TIV", "After Dose 2|SD-QIV"], "ticks": false, "tickSize": 0, "labelPadding": 6, "labelFontSize": 13, "labelLineHeight": 17.5, "labelBaseline": "top", "labelAngle": 0, "labelExpr": "[substring(split(datum.value, '|')[1], 0, 3), substring(split(datum.value, '|')[1], 3)]"}},
        "y": {"field": "val", "type": "quantitative", "scale": {"type": "log", "base": 2, "domain": [3.364, 10240], "range": [271, 77.3], "nice": false},
              "axis": {"title": "HAI Titer", "values": [10, 40, 160, 640, 2560, 10240], "format": ",", "offset": -106, "tickSize": 6, "labelPadding": 3, "labelFontSize": 13, "titleFontSize": 13, "titleFontWeight": "bold", "titleX": -77, "titleBaseline": "middle", "titleAngle": -90}}
      }},
     {"data": {"name": "Cm"}, "transform": [{"calculate": "datum.v + '|' + datum.g", "as": "c"}],
      "mark": {"type": "point", "filled": true, "size": 65, "color": "#111", "opacity": 1},
      "encoding": {
        "x": {"field": "c", "type": "nominal", "scale": {"type": "point", "domain": ["Baseline|HD-TIV", "s1", "s2", "s3", "Baseline|SD-QIV", "s5", "s6", "s7", "s8", "s9", "s10", "After Dose 2|HD-TIV", "s12", "s13", "s14", "After Dose 2|SD-QIV"], "range": [106, 399], "padding": 2.77},
              "axis": {"orient": "bottom", "offset": -76, "title": null, "values": ["Baseline|HD-TIV", "Baseline|SD-QIV", "After Dose 2|HD-TIV", "After Dose 2|SD-QIV"], "ticks": false, "tickSize": 0, "labelPadding": 6, "labelFontSize": 13, "labelLineHeight": 17.5, "labelBaseline": "top", "labelAngle": 0, "labelExpr": "[substring(split(datum.value, '|')[1], 0, 3), substring(split(datum.value, '|')[1], 3)]"}},
        "y": {"field": "m", "type": "quantitative", "scale": {"type": "log", "base": 2, "domain": [3.364, 10240], "range": [271, 77.3], "nice": false},
              "axis": {"title": "HAI Titer", "values": [10, 40, 160, 640, 2560, 10240], "format": ",", "offset": -106, "tickSize": 6, "labelPadding": 3, "labelFontSize": 13, "titleFontSize": 13, "titleFontWeight": "bold", "titleX": -77, "titleBaseline": "middle", "titleAngle": -90}},
        "shape": {"field": "g", "type": "nominal", "scale": {"domain": ["HD-TIV", "SD-QIV"], "range": ["triangle-up", "circle"]}, "legend": null}
      }},
     {"data": {"name": "brk"},
      "mark": {"type": "rule", "strokeWidth": 1.5, "color": "#3c3c3c"},
      "encoding": {
        "x": {"field": "x", "type": "nominal", "scale": {"type": "point", "domain": ["Baseline|HD-TIV", "s1", "s2", "s3", "Baseline|SD-QIV", "s5", "s6", "s7", "s8", "s9", "s10", "After Dose 2|HD-TIV", "s12", "s13", "s14", "After Dose 2|SD-QIV"], "range": [106, 399], "padding": 2.77},
              "axis": {"orient": "bottom", "offset": -76, "title": null, "values": ["Baseline|HD-TIV", "Baseline|SD-QIV", "After Dose 2|HD-TIV", "After Dose 2|SD-QIV"], "ticks": false, "tickSize": 0, "labelPadding": 6, "labelFontSize": 13, "labelLineHeight": 17.5, "labelBaseline": "top", "labelAngle": 0, "labelExpr": "[substring(split(datum.value, '|')[1], 0, 3), substring(split(datum.value, '|')[1], 3)]"}},
        "x2": {"field": "x2"},
        "y": {"field": "y", "type": "quantitative", "scale": {"type": "log", "base": 2, "domain": [3.364, 10240], "range": [271, 77.3], "nice": false},
              "axis": {"title": "HAI Titer", "values": [10, 40, 160, 640, 2560, 10240], "format": ",", "offset": -106, "tickSize": 6, "labelPadding": 3, "labelFontSize": 13, "titleFontSize": 13, "titleFontWeight": "bold", "titleX": -77, "titleBaseline": "middle", "titleAngle": -90}},
        "y2": {"field": "y2"}
      }}
   ]},
   {"data": {"values": [{"v": "After Dose 2", "y": 43600, "label": "P=0.10"}]},
    "mark": {"type": "text", "fontSize": 14, "baseline": "middle", "align": "center", "color": "#1a1a1a"},
    "encoding": {
      "x": {"field": "v", "type": "nominal", "scale": {"type": "point", "domain": ["Baseline", "After Dose 2"], "range": [106, 399], "padding": 0.4337},
            "axis": {"orient": "bottom", "offset": -76, "title": null, "domain": false, "ticks": false, "tickSize": 0, "labelPadding": 45, "labelFontSize": 13, "labelFontWeight": "bold", "labelBaseline": "top", "labelAngle": 0, "labelColor": "#111"}},
      "y": {"field": "y", "type": "quantitative", "scale": {"type": "log", "base": 2, "domain": [3.364, 10240], "range": [271, 77.3], "nice": false},
            "axis": {"title": "HAI Titer", "values": [10, 40, 160, 640, 2560, 10240], "format": ",", "offset": -106, "tickSize": 6, "labelPadding": 3, "labelFontSize": 13, "titleFontSize": 13, "titleFontWeight": "bold", "titleX": -77, "titleBaseline": "middle", "titleAngle": -90}},
      "text": {"field": "label"}
    }}
  ]},
 {"width": 422, "height": 347, "title": {"text": "D\u00a0\u00a0\u00a0B/Yamagata"},
  "resolve": {"scale": {"x": "independent"}, "axis": {"x": "independent"}},
  "layer": [
   {"layer": [
     {"data": {"name": "D"}, "transform": [{"flatten": ["j"]}, {"calculate": "datum.v + '|' + datum.g", "as": "c"}],
      "mark": {"type": "point", "filled": true, "size": 28, "opacity": 0.95},
      "encoding": {
        "x": {"field": "c", "type": "nominal", "scale": {"type": "point", "domain": ["Baseline|HD-TIV", "s1", "s2", "s3", "Baseline|SD-QIV", "s5", "s6", "s7", "s8", "s9", "s10", "After Dose 2|HD-TIV", "s12", "s13", "s14", "After Dose 2|SD-QIV"], "range": [106, 399], "padding": 2.77},
              "axis": {"orient": "bottom", "offset": -76, "title": null, "values": ["Baseline|HD-TIV", "Baseline|SD-QIV", "After Dose 2|HD-TIV", "After Dose 2|SD-QIV"], "ticks": false, "tickSize": 0, "labelPadding": 6, "labelFontSize": 13, "labelLineHeight": 17.5, "labelBaseline": "top", "labelAngle": 0, "labelExpr": "[substring(split(datum.value, '|')[1], 0, 3), substring(split(datum.value, '|')[1], 3)]"}},
        "xOffset": {"field": "j", "type": "quantitative", "scale": {"domain": [-3, 3], "range": [-13, 13]}},
        "y": {"field": "t", "type": "quantitative", "scale": {"type": "log", "base": 2, "domain": [3.364, 10240], "range": [271, 77.3], "nice": false},
              "axis": {"title": "HAI Titer", "values": [10, 40, 160, 640, 2560, 10240], "format": ",", "offset": -106, "tickSize": 6, "labelPadding": 3, "labelFontSize": 13, "titleFontSize": 13, "titleFontWeight": "bold", "titleX": -77, "titleBaseline": "middle", "titleAngle": -90}},
        "shape": {"field": "g", "type": "nominal", "scale": {"domain": ["HD-TIV", "SD-QIV"], "range": ["triangle-up", "circle"]}, "legend": null},
        "color": {"field": "g", "type": "nominal", "scale": {"domain": ["HD-TIV", "SD-QIV"], "range": ["#d9593b", "#4a84cf"]}, "legend": null}
      }},
     {"data": {"name": "Dm"}, "transform": [{"calculate": "datum.v + '|' + datum.g", "as": "c"}],
      "mark": {"type": "rule", "strokeWidth": 2, "color": "#111"},
      "encoding": {
        "x": {"field": "c", "type": "nominal", "scale": {"type": "point", "domain": ["Baseline|HD-TIV", "s1", "s2", "s3", "Baseline|SD-QIV", "s5", "s6", "s7", "s8", "s9", "s10", "After Dose 2|HD-TIV", "s12", "s13", "s14", "After Dose 2|SD-QIV"], "range": [106, 399], "padding": 2.77},
              "axis": {"orient": "bottom", "offset": -76, "title": null, "values": ["Baseline|HD-TIV", "Baseline|SD-QIV", "After Dose 2|HD-TIV", "After Dose 2|SD-QIV"], "ticks": false, "tickSize": 0, "labelPadding": 6, "labelFontSize": 13, "labelLineHeight": 17.5, "labelBaseline": "top", "labelAngle": 0, "labelExpr": "[substring(split(datum.value, '|')[1], 0, 3), substring(split(datum.value, '|')[1], 3)]"}},
        "y": {"field": "lo", "type": "quantitative", "scale": {"type": "log", "base": 2, "domain": [3.364, 10240], "range": [271, 77.3], "nice": false},
              "axis": {"title": "HAI Titer", "values": [10, 40, 160, 640, 2560, 10240], "format": ",", "offset": -106, "tickSize": 6, "labelPadding": 3, "labelFontSize": 13, "titleFontSize": 13, "titleFontWeight": "bold", "titleX": -77, "titleBaseline": "middle", "titleAngle": -90}},
        "y2": {"field": "hi"}
      }},
     {"data": {"name": "Dm"}, "transform": [{"calculate": "datum.v + '|' + datum.g", "as": "c"}, {"fold": ["lo", "hi"], "as": ["k", "val"]}],
      "mark": {"type": "tick", "thickness": 2, "size": 20, "color": "#111", "opacity": 1},
      "encoding": {
        "x": {"field": "c", "type": "nominal", "scale": {"type": "point", "domain": ["Baseline|HD-TIV", "s1", "s2", "s3", "Baseline|SD-QIV", "s5", "s6", "s7", "s8", "s9", "s10", "After Dose 2|HD-TIV", "s12", "s13", "s14", "After Dose 2|SD-QIV"], "range": [106, 399], "padding": 2.77},
              "axis": {"orient": "bottom", "offset": -76, "title": null, "values": ["Baseline|HD-TIV", "Baseline|SD-QIV", "After Dose 2|HD-TIV", "After Dose 2|SD-QIV"], "ticks": false, "tickSize": 0, "labelPadding": 6, "labelFontSize": 13, "labelLineHeight": 17.5, "labelBaseline": "top", "labelAngle": 0, "labelExpr": "[substring(split(datum.value, '|')[1], 0, 3), substring(split(datum.value, '|')[1], 3)]"}},
        "y": {"field": "val", "type": "quantitative", "scale": {"type": "log", "base": 2, "domain": [3.364, 10240], "range": [271, 77.3], "nice": false},
              "axis": {"title": "HAI Titer", "values": [10, 40, 160, 640, 2560, 10240], "format": ",", "offset": -106, "tickSize": 6, "labelPadding": 3, "labelFontSize": 13, "titleFontSize": 13, "titleFontWeight": "bold", "titleX": -77, "titleBaseline": "middle", "titleAngle": -90}}
      }},
     {"data": {"name": "Dm"}, "transform": [{"calculate": "datum.v + '|' + datum.g", "as": "c"}],
      "mark": {"type": "point", "filled": true, "size": 65, "color": "#111", "opacity": 1},
      "encoding": {
        "x": {"field": "c", "type": "nominal", "scale": {"type": "point", "domain": ["Baseline|HD-TIV", "s1", "s2", "s3", "Baseline|SD-QIV", "s5", "s6", "s7", "s8", "s9", "s10", "After Dose 2|HD-TIV", "s12", "s13", "s14", "After Dose 2|SD-QIV"], "range": [106, 399], "padding": 2.77},
              "axis": {"orient": "bottom", "offset": -76, "title": null, "values": ["Baseline|HD-TIV", "Baseline|SD-QIV", "After Dose 2|HD-TIV", "After Dose 2|SD-QIV"], "ticks": false, "tickSize": 0, "labelPadding": 6, "labelFontSize": 13, "labelLineHeight": 17.5, "labelBaseline": "top", "labelAngle": 0, "labelExpr": "[substring(split(datum.value, '|')[1], 0, 3), substring(split(datum.value, '|')[1], 3)]"}},
        "y": {"field": "m", "type": "quantitative", "scale": {"type": "log", "base": 2, "domain": [3.364, 10240], "range": [271, 77.3], "nice": false},
              "axis": {"title": "HAI Titer", "values": [10, 40, 160, 640, 2560, 10240], "format": ",", "offset": -106, "tickSize": 6, "labelPadding": 3, "labelFontSize": 13, "titleFontSize": 13, "titleFontWeight": "bold", "titleX": -77, "titleBaseline": "middle", "titleAngle": -90}},
        "shape": {"field": "g", "type": "nominal", "scale": {"domain": ["HD-TIV", "SD-QIV"], "range": ["triangle-up", "circle"]}, "legend": null}
      }},
     {"data": {"name": "brk"},
      "mark": {"type": "rule", "strokeWidth": 1.5, "color": "#3c3c3c"},
      "encoding": {
        "x": {"field": "x", "type": "nominal", "scale": {"type": "point", "domain": ["Baseline|HD-TIV", "s1", "s2", "s3", "Baseline|SD-QIV", "s5", "s6", "s7", "s8", "s9", "s10", "After Dose 2|HD-TIV", "s12", "s13", "s14", "After Dose 2|SD-QIV"], "range": [106, 399], "padding": 2.77},
              "axis": {"orient": "bottom", "offset": -76, "title": null, "values": ["Baseline|HD-TIV", "Baseline|SD-QIV", "After Dose 2|HD-TIV", "After Dose 2|SD-QIV"], "ticks": false, "tickSize": 0, "labelPadding": 6, "labelFontSize": 13, "labelLineHeight": 17.5, "labelBaseline": "top", "labelAngle": 0, "labelExpr": "[substring(split(datum.value, '|')[1], 0, 3), substring(split(datum.value, '|')[1], 3)]"}},
        "x2": {"field": "x2"},
        "y": {"field": "y", "type": "quantitative", "scale": {"type": "log", "base": 2, "domain": [3.364, 10240], "range": [271, 77.3], "nice": false},
              "axis": {"title": "HAI Titer", "values": [10, 40, 160, 640, 2560, 10240], "format": ",", "offset": -106, "tickSize": 6, "labelPadding": 3, "labelFontSize": 13, "titleFontSize": 13, "titleFontWeight": "bold", "titleX": -77, "titleBaseline": "middle", "titleAngle": -90}},
        "y2": {"field": "y2"}
      }}
   ]},
   {"data": {"values": [{"v": "After Dose 2", "y": 43600, "label": "P<0.001"}]},
    "mark": {"type": "text", "fontSize": 14, "baseline": "middle", "align": "center", "color": "#1a1a1a"},
    "encoding": {
      "x": {"field": "v", "type": "nominal", "scale": {"type": "point", "domain": ["Baseline", "After Dose 2"], "range": [106, 399], "padding": 0.4337},
            "axis": {"orient": "bottom", "offset": -76, "title": null, "domain": false, "ticks": false, "tickSize": 0, "labelPadding": 45, "labelFontSize": 13, "labelFontWeight": "bold", "labelBaseline": "top", "labelAngle": 0, "labelColor": "#111"}},
      "y": {"field": "y", "type": "quantitative", "scale": {"type": "log", "base": 2, "domain": [3.364, 10240], "range": [271, 77.3], "nice": false},
            "axis": {"title": "HAI Titer", "values": [10, 40, 160, 640, 2560, 10240], "format": ",", "offset": -106, "tickSize": 6, "labelPadding": 3, "labelFontSize": 13, "titleFontSize": 13, "titleFontWeight": "bold", "titleX": -77, "titleBaseline": "middle", "titleAngle": -90}},
      "text": {"field": "label"}
    }}
  ]}
]
}
